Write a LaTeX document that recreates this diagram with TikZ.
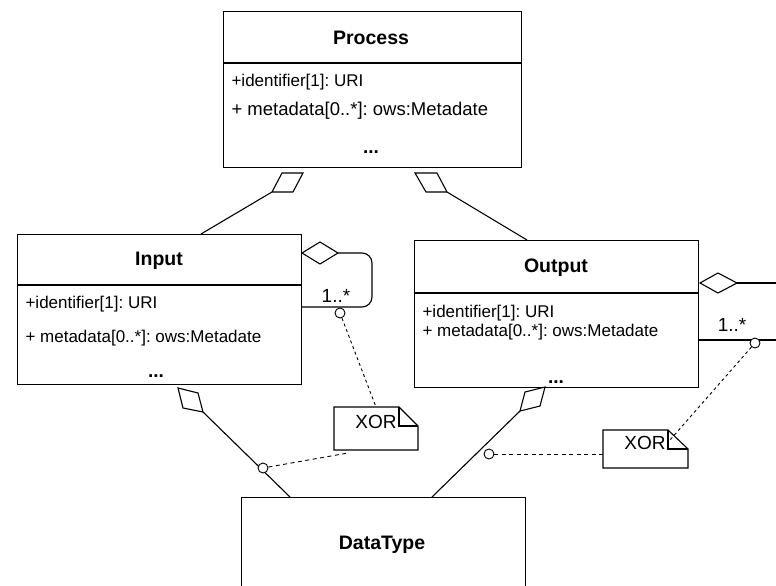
\documentclass[tikz,border=0pt]{standalone}
\usepackage{fontspec}
\setmainfont{Liberation Sans}
\begin{document}
\frenchspacing
\begin{tikzpicture}[x=1pt,y=-1pt, line width=1.1pt, line join=miter,
  box/.style={draw, anchor=north west, inner sep=0pt},
  ttl/.style={inner sep=0pt, font=\fontsize{19.5}{22}\selectfont\bfseries},
  attr/.style={anchor=west, inner sep=0pt, font=\fontsize{17}{20}\selectfont\frenchspacing},
  bigattr/.style={anchor=west, inner sep=0pt, font=\fontsize{18.5}{21}\selectfont\frenchspacing},
  dots/.style={anchor=base, inner sep=0pt, font=\fontsize{19}{22}\selectfont\bfseries},
  lbl/.style={inner sep=0pt, font=\fontsize{19}{22}\selectfont},
  hole/.style={draw, fill=white, circle, inner sep=0pt, minimum size=10pt, line width=0.9pt},
  dashline/.style={line width=0.9pt, dash pattern=on 4pt off 3.5pt},
  dotline/.style={line width=0.9pt, dash pattern=on 3pt off 3pt}
]
\useasboundingbox (0,0) rectangle (776,586);
\fill[white] (0,0) rectangle (776,586);

% ---------- boxes ----------
\node[box, minimum width=298pt, minimum height=156pt] (process) at (223,11) {};
\draw (223,63) -- (521,63);
\node[ttl] (ptitle) at (371,38) {Process};
\node[attr] (pid) at (231,82) {+identifier[1]: URI};
\node[bigattr] (pmeta) at (231,111) {+ metadata[0..*]: ows:Metadate};
\node[dots] (pdots) at (371,153) {...};

\node[box, minimum width=284pt, minimum height=150pt] (input) at (17,234) {};
\draw (17,285) -- (301,285);
\node[ttl] (ititle) at (159,261) {Input};
\node[attr] (iid) at (25,304) {+identifier[1]: URI};
\node[attr] (imeta) at (25,338) {+ metadata[0..*]: ows:Metadate};
\node[dots] (idots) at (156,377) {...};

\node[box, minimum width=284pt, minimum height=147pt] (output) at (414,240) {};
\draw (414,293) -- (698,293);
\node[ttl] (otitle) at (556,268) {Output};
\node[attr] (oid) at (422,313) {+identifier[1]: URI};
\node[attr] (ometa) at (422,332) {+ metadata[0..*]: ows:Metadate};
\node[dots] (odots) at (556,383) {...};

\node[box, minimum width=284pt, minimum height=100pt] (datatype) at (241,497) {};
\node[ttl] (dtitle) at (382,545) {DataType};

% ---------- Process aggregations ----------
\draw (272,192) -- (282,173) -- (303,173) -- (293,192) -- cycle;
\draw (272,192) -- (201,234);
\draw (415,173) -- (437,173) -- (447,192) -- (426,192) -- cycle;
\draw (447,192) -- (527,240);

% ---------- Input self loop ----------
\draw (302,253) -- (320,242) -- (338,253) -- (320,264) -- cycle;
\draw[rounded corners=10pt] (338,253) -- (372,253) -- (372,307) -- (301,307);
\node[lbl] (iloop) at (336,296) {1..*};
\node[hole] (ic) at (340,313) {};

% ---------- Output self loop ----------
\draw (700,283) -- (718,273) -- (737,283) -- (718,293) -- cycle;
\draw (737,283) -- (776,283);
\draw (698,340) -- (776,340);
\node[lbl] (oloop) at (732,325) {1..*};
\node[hole] (oc) at (755,343) {};

% ---------- XOR notes ----------
\draw (334,407) -- (399,407) -- (418,426) -- (418,450) -- (334,450) -- cycle;
\draw (399,407) -- (399,426) -- (418,426);
\node[lbl] (xor1) at (376,422) {XOR};

\draw (603,430) -- (668,430) -- (688,449) -- (688,468) -- (603,468) -- cycle;
\draw (668,430) -- (668,449) -- (688,449);
\node[lbl] (xor2) at (645,443) {XOR};

% ---------- DataType aggregations ----------
\draw (178,388) -- (198,393) -- (203,412) -- (183,408) -- cycle;
\draw (203,412) -- (290,497);
\node[hole] (dc1) at (263,468) {};
\draw[dashline] (dc1) -- (348,453);

\draw (545,387) -- (525,392) -- (520,411) -- (540,406) -- cycle;
\draw (520,411) -- (432,497);
\node[hole] (dc2) at (489,454) {};
\draw[dashline] (dc2) -- (603,454);

% ---------- dotted links ----------
\draw[dotline] (ic) -- (376,407);
\draw[dotline] (oc) -- (670,440);
\end{tikzpicture}
\end{document}
